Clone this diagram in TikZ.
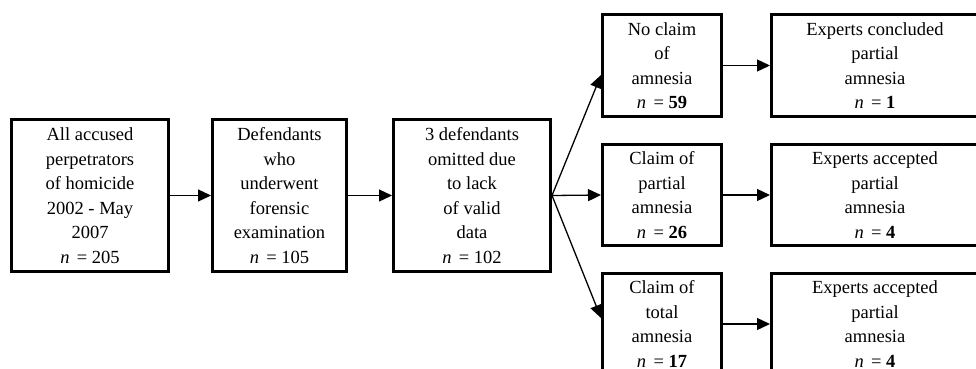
\documentclass[tikz,border=0pt]{standalone}
\usepackage{fontspec}
\setmainfont{Liberation Serif}
\usetikzlibrary{arrows.meta}
\tikzset{
  box/.style={draw,line width=3pt,align=center,inner sep=0pt,
    minimum height=101pt,font=\fontsize{18.5}{24.5}\selectfont},
  arr/.style={-{Triangle[length=13pt,width=12pt]},line width=1.3pt}
}
\newcommand{\nval}[1]{\textit{n}\hspace{0.4em}= #1}

\begin{document}
\begin{tikzpicture}[x=1pt,y=-1pt]
  \clip (0,0) rectangle (976,369);
  \node[box,minimum width=157pt,minimum height=152pt] (all) at (90,195.5)
    {All accused\\perpetrators\\of homicide\\2002 - May\\2007\\\nval{205}};
  \node[box,minimum width=134pt,minimum height=152pt] (exam) at (279.5,195.5)
    {Defendants\\who\\underwent\\forensic\\examination\\\nval{105}};
  \node[box,minimum width=157pt,minimum height=152pt] (valid) at (472,195.5)
    {3 defendants\\omitted due\\to lack\\of valid\\data\\\nval{102}};
  \node[box,minimum width=119pt] (noclaim) at (662,65.5)
    {No claim\\of\\amnesia\\\nval{\textbf{59}}};
  \node[box,minimum width=119pt] (partial) at (662,195)
    {Claim of\\partial\\amnesia\\\nval{\textbf{26}}};
  \node[box,minimum width=119pt] (total) at (662,324)
    {Claim of\\total\\amnesia\\\nval{\textbf{17}}};
  \node[box,minimum width=207pt] (concl) at (875,65.5)
    {Experts concluded\\partial\\amnesia\\\nval{\textbf{1}}};
  \node[box,minimum width=207pt] (accp) at (875,195)
    {Experts accepted\\partial\\amnesia\\\nval{\textbf{4}}};
  \node[box,minimum width=207pt] (acct) at (875,324)
    {Experts accepted\\partial\\amnesia\\\nval{\textbf{4}}};

  \draw[arr] (all.east) -- (exam.west);
  \draw[arr] (exam.east) -- (valid.west);
  \draw[arr] (valid.east) -- ([yshift=-9.5pt]noclaim.west);
  \draw[arr] (valid.east) -- (partial.west);
  \draw[arr] (valid.east) -- ([yshift=6pt]total.west);
  \draw[arr] (noclaim.east) -- (concl.west);
  \draw[arr] (partial.east) -- (accp.west);
  \draw[arr] (total.east) -- (acct.west);
\end{tikzpicture}
\end{document}
